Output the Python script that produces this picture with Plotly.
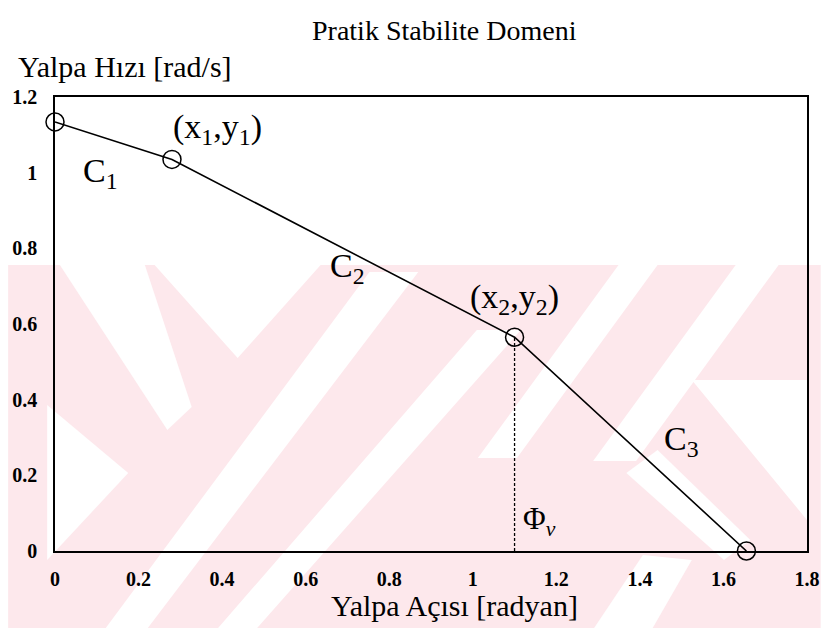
import plotly.graph_objects as go

# ---- data ----
x_pts = [0.0, 0.28, 1.10, 1.655]
y_pts = [1.134, 1.035, 0.565, 0.0]
x_ticks = [0, 0.2, 0.4, 0.6, 0.8, 1, 1.2, 1.4, 1.6, 1.8]
x_tick_text = ["0", "0.2", "0.4", "0.6", "0.8", "1", "1.2", "1.4", "1.6", "1.8"]
y_ticks = [0, 0.2, 0.4, 0.6, 0.8, 1, 1.2]
y_tick_text = ["0", "0.2", "0.4", "0.6", "0.8", "1", "1.2"]

W, H = 832, 636
L, R, T, B = 48, 14, 97, 85
PW, PH = W - L - R, H - T - B

def px(x):
    return (x - L) / PW

def py(y):
    return (H - B - y) / PH

def poly(pts):
    return "M " + " L ".join(f"{px(a):.4f},{py(b):.4f}" for a, b in pts) + " Z"

FONT = "Liberation Serif"
PINK = "#fde8ec"

fig = go.Figure()
fig.add_trace(go.Scatter(
    x=[x_pts[2], x_pts[2]], y=[0, y_pts[2]], mode="lines",
    line=dict(color="black", width=1.3, dash="3px,2px"), showlegend=False, hoverinfo="skip"))
fig.add_trace(go.Scatter(
    x=x_pts, y=y_pts, mode="lines+markers",
    line=dict(color="black", width=1.6),
    marker=dict(symbol="circle-open", size=18, color="black", line=dict(width=1.5)),
    showlegend=False, cliponaxis=False))

shapes = []
# watermark (approximate)
shapes.append(dict(type="path", path=poly([(0, 265), (W, 265), (W, 628), (0, 628)]),
                   xref="paper", yref="paper", fillcolor=PINK, line=dict(width=0), layer="below"))
whites = [
    [(53, 265), (140, 265), (188, 407), (163, 430)],
    [(150, 265), (235, 358), (320, 265)],
    [(40, 405), (123, 473), (40, 560)],
    [(370, 272), (420, 272), (143, 628), (100, 628)],
    [(480, 330), (525, 330), (255, 628), (215, 628)],
    [(625, 265), (665, 265), (521, 458), (481, 458)],
    [(745, 265), (789, 265), (643, 461), (599, 461)],
    [(700, 380), (818, 380), (818, 520)],
    [(633, 473), (665, 450), (760, 540), (733, 560)],
    [(600, 628), (660, 628), (700, 560), (650, 555)],
]
for wpts in whites:
    shapes.append(dict(type="path", path=poly(wpts), xref="paper", yref="paper",
                       fillcolor="white", line=dict(width=0), layer="below"))

fig.update_layout(shapes=shapes)

ann = []
def add_text(x, y, text, size, xref="x", yref="y", xanchor="center"):
    ann.append(dict(x=x, y=y, xref=xref, yref=yref, text=text, showarrow=False,
                    xanchor=xanchor, yanchor="middle",
                    font=dict(family=FONT, size=size, color="black")))

add_text(px(447), py(30), "Pratik Stabilite Domeni", 28, xref="paper", yref="paper")
add_text(px(8), py(66), "Yalpa Hızı [rad/s]", 30, xref="paper", yref="paper", xanchor="left")
add_text(px(457), py(605), "Yalpa Açısı [radyan]", 30, xref="paper", yref="paper")
add_text(0.39, 1.115, "(x<sub>1</sub>,y<sub>1</sub>)", 34)
add_text(0.11, 1.0, "C<sub>1</sub>", 34)
add_text(0.70, 0.748, "C<sub>2</sub>", 34)
add_text(1.10, 0.665, "(x<sub>2</sub>,y<sub>2</sub>)", 34)
add_text(1.50, 0.29, "C<sub>3</sub>", 34)
add_text(1.16, 0.08, "Φ<sub><i>v</i></sub>", 31)
fig.update_layout(annotations=ann)

fig.update_layout(
    width=W, height=H,
    margin=dict(l=L, r=R, t=T, b=B, pad=0),
    paper_bgcolor="white", plot_bgcolor="rgba(0,0,0,0)",
    font=dict(family=FONT, size=20, color="black"),
    xaxis=dict(range=[0, 1.8], tickvals=x_ticks, ticktext=x_tick_text, showgrid=False,
               zeroline=False, showline=True, mirror=True, linecolor="black", linewidth=1.6,
               ticks="", ticklabelstandoff=9, tickfont=dict(family=FONT, size=20, weight="bold")),
    yaxis=dict(range=[0, 1.2], tickvals=y_ticks, ticktext=y_tick_text, showgrid=False,
               zeroline=False, showline=True, mirror=True, linecolor="black", linewidth=1.6,
               ticks="", ticklabelstandoff=12, tickfont=dict(family=FONT, size=20, weight="bold")),
)

fig.write_html("out.html", config={"displayModeBar": False},
               post_script="document.body.style.margin='0';")
